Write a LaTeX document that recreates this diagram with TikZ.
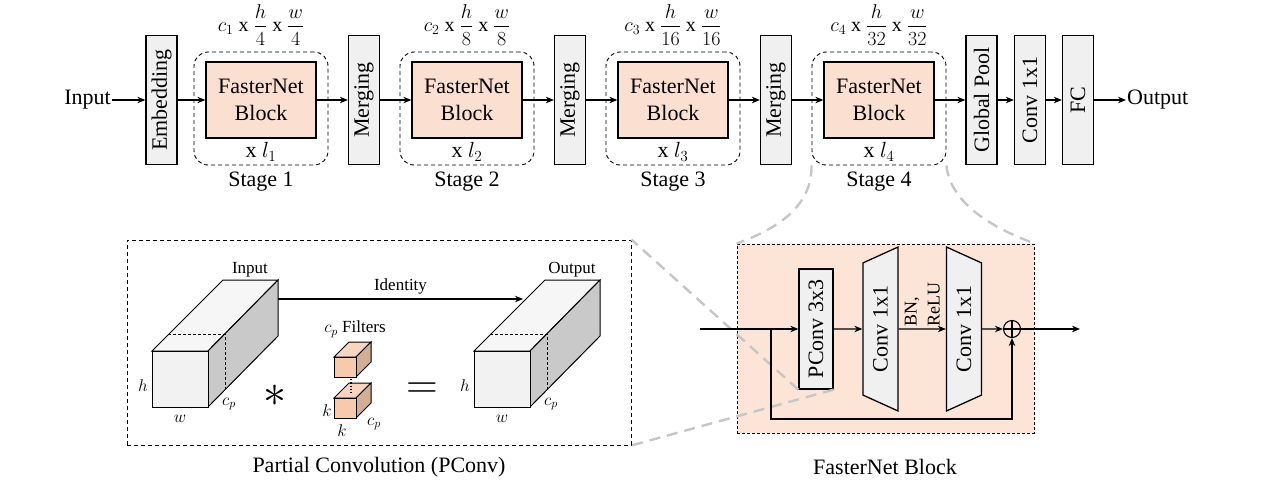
\RequirePackage{fix-cm}
\documentclass[tikz,border=0pt]{standalone}
\usepackage{amsmath}
\usepackage{fontspec}
\setmainfont{Liberation Serif}
\usepackage{tikz}
\usetikzlibrary{arrows.meta,shapes.geometric}

\definecolor{boxgray}{HTML}{F0F0F0}
\definecolor{blkfill}{HTML}{FBE0D2}
\definecolor{bgfill}{HTML}{FCE5D7}
\definecolor{cubefront}{HTML}{F7CAAC}
\definecolor{cubetop}{HTML}{F9D5BE}
\definecolor{cubeside}{HTML}{D3AE97}

\begin{document}
\begin{tikzpicture}[
	x=1pt, y=-1pt,
	font=\fontsize{22}{27}\selectfont,
	gbox/.style={draw,line width=1.3pt,fill=boxgray,rotate=90,inner sep=0pt,minimum width=129pt,minimum height=31pt},
	fblk/.style={draw,line width=1.3pt,fill=blkfill,align=center,inner sep=0pt,minimum width=110pt,minimum height=76pt},
	stg/.style={draw,dash pattern=on 4pt off 3pt,line width=0.9pt,rounded corners=14pt,minimum width=134pt,minimum height=113pt},
	trap/.style={trapezium,draw,line width=1.3pt,fill=boxgray,rotate=90,trapezium stretches=true,trapezium left angle=55,trapezium right angle=55,minimum width=164pt,minimum height=35pt,inner sep=0pt},
	arr/.style={-{Stealth[length=8pt,width=6.5pt]},line width=1.1pt},
	zln/.style={draw=gray!45,line width=2.4pt,dash pattern=on 11pt off 7pt},
	txt/.style={inner sep=1pt},
	sml/.style={inner sep=1pt,font=\fontsize{17}{20}\selectfont}
	]
	\useasboundingbox (0,0) rectangle (1286,482);

	% backbone
	\foreach \k/\xc/\dn in {1/261/4,2/467/8,3/673/16,4/879/32}{
		\node[stg] (stg\k) at (\xc,108.5) {};
		\node[fblk] (blk\k) at (\xc,100) {FasterNet\\Block};
		\node[txt] (rep\k) at (\xc,152) {x $l_{\k}$};
		\node[txt] (nm\k) at (\xc,182) {Stage \k};
		\node[txt,font=\fontsize{20}{22}\selectfont] (dim\k) at (\xc,25) {$c_{\k}$ x $\dfrac{h}{\dn}$ x $\dfrac{w}{\dn}$};
	}
	\foreach \k/\xc in {1/364,2/570,3/776}{
		\node[gbox] (mrg\k) at (\xc,100) {Merging};
	}
	\node[gbox] (emb) at (161.5,100) {Embedding};
	\node[gbox] (gp) at (981.5,100) {Global Pool};
	\node[gbox] (cv) at (1030,100) {Conv 1x1};
	\node[gbox] (fc) at (1078,100) {FC};
	\node[txt,anchor=east] (inp) at (112,100) {Input};
	\node[txt,anchor=west] (outp) at (1126,100) {Output};
	\foreach \a/\b in {inp/emb,emb/blk1,blk1/mrg1,mrg1/blk2,blk2/mrg2,mrg2/blk3,blk3/mrg3,mrg3/blk4,blk4/gp,gp/cv,cv/fc,fc/outp}{
		\draw[arr] (\a) -- (\b);
	}

	% partial convolution
	\node[draw,dash pattern=on 4pt off 3pt,line width=0.9pt,minimum width=504pt,minimum height=205pt] (pcbox) at (379,342.5) {};
	\node[txt] (pccap) at (379,467) {Partial Convolution (PConv)};
	\foreach \ox/\nm/\lbl in {0/in/Input,322/out/Output}{
		\begin{scope}[shift={(\ox,0)}]
			\draw[line width=1pt,fill=gray!7] (152,351) -- (223,280) -- (278,280) -- (208,351) -- cycle;
			\draw[line width=1pt,fill=gray!42] (208,351) -- (278,280) -- (278,336) -- (208,407) -- cycle;
			\draw[line width=1pt,fill=gray!10] (152,351) rectangle (208,407);
			\draw[line width=0.8pt,dash pattern=on 3pt off 2pt] (168,334) -- (225,334) -- (225,390);
			\node[sml] (\nm-h) at (143,386) {$h$};
			\node[sml] (\nm-w) at (180,419) {$w$};
			\node[sml] (\nm-c) at (229,404) {$c_p$};
			\node[sml] (\nm-lbl) at (250,270) {\lbl};
		\end{scope}
	}
	\coordinate (idsrc) at (278,299);
	\coordinate (iddst) at (523,299);
	\draw[arr] (idsrc) -- node[sml,above=3pt] {Identity} (iddst);
	\foreach \fy in {357,398}{
		\draw[line width=1pt,fill=cubetop] (334,\fy) -- (349,{\fy-15}) -- (371,{\fy-15}) -- (356,\fy) -- cycle;
		\draw[line width=1pt,fill=cubeside] (356,\fy) -- (371,{\fy-15}) -- (371,{\fy+5}) -- (356,{\fy+20}) -- cycle;
		\draw[line width=1pt,fill=cubefront] (334,\fy) rectangle (356,{\fy+20});
	}
	\draw[line width=1.3pt,dotted] (351,379) -- (351,393);
	\node[sml] (flt) at (355,329) {$c_p$ Filters};
	\node[sml] (fk1) at (327,411) {$k$};
	\node[sml] (fk2) at (342,431) {$k$};
	\node[sml] (fc2) at (374,424) {$c_p$};
	\node[txt,font=\fontsize{46}{46}\selectfont] (conv) at (275,396) {$\ast$};
	\node[txt,font=\fontsize{44}{44}\selectfont] (eq) at (422,391) {$=$};

	% FasterNet block
	\node[draw,fill=bgfill,dash pattern=on 3pt off 2pt,line width=0.9pt,minimum width=297pt,minimum height=189pt] (fbox) at (885.5,338.5) {};
	\node[txt] (fcap) at (885,467) {FasterNet Block};
	\node[gbox,minimum width=120pt,minimum height=34pt] (pconv) at (816,329) {PConv 3x3};
	\node[trap] (cv1) at (880.5,329) {Conv 1x1};
	\node[trap,shape border rotate=180] (cv2) at (964,329) {Conv 1x1};
	\node[circle,draw,line width=1.1pt,minimum size=17pt,inner sep=0pt,
		path picture={\draw[line width=1.1pt] (path picture bounding box.north) -- (path picture bounding box.south)
			(path picture bounding box.west) -- (path picture bounding box.east);}] (add) at (1012,329) {};
	\coordinate (bin) at (700,329);
	\coordinate (split) at (771,329);
	\coordinate (bout) at (1080,329);

	% zoom lines
	\draw[zln] (stg4.south west) .. controls (812,205) and (780,228) .. (fbox.north west);
	\draw[zln] (stg4.south east) .. controls (950,200) and (985,225) .. (fbox.north east);
	\draw[zln] (pconv.north west) -- (pcbox.north east);
	\draw[zln] (pconv.south west) -- (pcbox.south east);

	\draw[arr] (bin) -- (pconv);
	\draw[arr] (pconv) -- (cv1);
	\draw[arr] (cv1) -- node[rotate=90,anchor=west,align=left,inner sep=2pt,font=\fontsize{18}{23}\selectfont] {BN,\\ReLU} (cv2);
	\draw[arr] (cv2) -- (add);
	\draw[arr] (add) -- (bout);
	\draw[arr] (split) -- ++(0,90) -| (add.south);
\end{tikzpicture}
\end{document}
